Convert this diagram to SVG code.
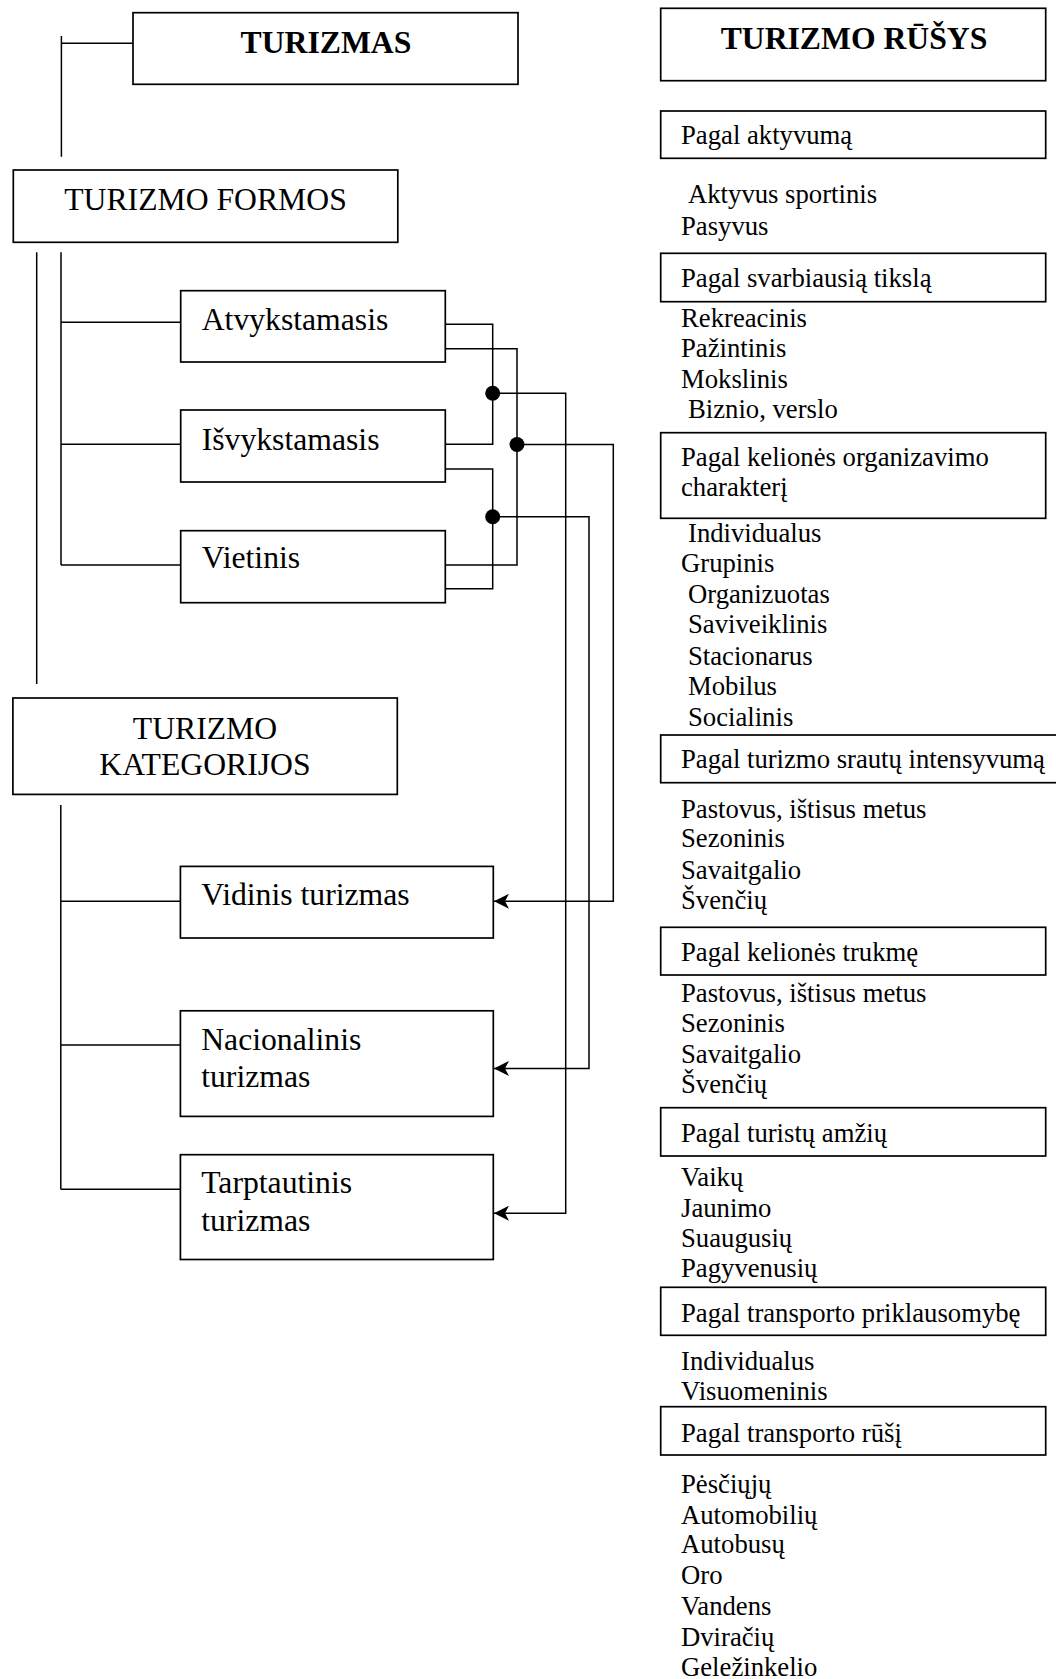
<svg xmlns="http://www.w3.org/2000/svg" width="1056" height="1679" viewBox="0 0 1056 1679">
<style>
  .box { fill: #fff; stroke: #000; stroke-width: 1.7; }
  .ln { fill: none; stroke: #000; stroke-width: 1.5; }
  .big { font-family: "Liberation Serif", "Times New Roman", serif; font-size: 31.7px; fill: #000; }
  .bold { font-weight: bold; }
  .sm { font-family: "Liberation Serif", "Times New Roman", serif; font-size: 26.7px; fill: #000; }
  .mid { text-anchor: middle; }
</style>
<defs>
  <marker id="arr" viewBox="0 0 15 15" refX="15" refY="7.5" markerWidth="15" markerHeight="15" markerUnits="userSpaceOnUse" orient="auto">
    <path d="M0,0 L15,7.5 L0,15 L4,7.5 Z" fill="#000"/>
  </marker>
</defs>
<rect width="1056" height="1679" fill="#fff"/>

<g id="connectors">
  <path class="ln" d="M133,43.3 H61.4 M61.4,36 V156.7"/>
  <path class="ln" d="M36.7,252.3 V684"/>
  <path class="ln" d="M61,252.3 V565 M61,322.3 H180.7 M61,444.3 H180.7 M61,565 H180.7"/>
  <path class="ln" d="M60.8,805 V1189.2 M60.8,901.3 H180.4 M60.8,1044.9 H180.4 M60.8,1189.2 H180.4"/>
  <path class="ln" d="M445.3,324.3 H492.7 V444.3 H445.3"/>
  <path class="ln" d="M445.3,348.7 H517 V565 H445.3"/>
  <path class="ln" d="M445.3,469 H492.7 V588.7 H445.3"/>
  <path class="ln" d="M492.7,393.3 H565.7 V1213.2 H494" marker-end="url(#arr)"/>
  <path class="ln" d="M517,444.5 H613.3 V901.3 H494" marker-end="url(#arr)"/>
  <path class="ln" d="M492.7,516.7 H589 V1068.4 H494" marker-end="url(#arr)"/>
  <circle cx="492.7" cy="393.3" r="7.5" fill="#000"/>
  <circle cx="517" cy="444.5" r="7.5" fill="#000"/>
  <circle cx="492.7" cy="516.7" r="7.5" fill="#000"/>
</g>

<g id="turizmas">
  <rect class="box" x="133" y="12.7" width="385" height="71.6"/>
  <text class="big bold mid" x="326" y="53.3">TURIZMAS</text>
</g>
<g id="turizmo-formos">
  <rect class="box" x="13.3" y="170" width="384.5" height="72.3"/>
  <text class="big mid" x="205.5" y="210">TURIZMO FORMOS</text>
</g>
<g id="atvykstamasis">
  <rect class="box" x="180.7" y="290.7" width="264.6" height="71.3"/>
  <text class="big" x="201.7" y="330">Atvykstamasis</text>
</g>
<g id="isvykstamasis">
  <rect class="box" x="180.7" y="410" width="264.6" height="72"/>
  <text class="big" x="201.7" y="450">Išvykstamasis</text>
</g>
<g id="vietinis">
  <rect class="box" x="180.7" y="530.7" width="264.6" height="72"/>
  <text class="big" x="201.7" y="568.3">Vietinis</text>
</g>
<g id="turizmo-kategorijos">
  <rect class="box" x="12.9" y="698" width="384.4" height="96.4"/>
  <text class="big mid" x="205" y="739">TURIZMO</text>
  <text class="big mid" x="205" y="775">KATEGORIJOS</text>
</g>
<g id="vidinis">
  <rect class="box" x="180.4" y="866.4" width="312.9" height="71.6"/>
  <text class="big" x="201.2" y="905">Vidinis turizmas</text>
</g>
<g id="nacionalinis">
  <rect class="box" x="180.4" y="1010.8" width="312.9" height="105.6"/>
  <text class="big" x="201.2" y="1049.5">Nacionalinis</text>
  <text class="big" x="201.2" y="1087.4">turizmas</text>
</g>
<g id="tarptautinis">
  <rect class="box" x="180.4" y="1154.7" width="312.9" height="104.8"/>
  <text class="big" x="201.2" y="1193.4">Tarptautinis</text>
  <text class="big" x="201.2" y="1230.5">turizmas</text>
</g>

<g id="turizmo-rusys">
  <rect class="box" x="660.7" y="8.3" width="385" height="72.4"/>
  <text class="big bold mid" x="854" y="49">TURIZMO RŪŠYS</text>
</g>
<g id="pagal-aktyvuma">
  <rect class="box" x="660.7" y="111" width="385" height="47.3"/>
  <text class="sm" x="681" y="144">Pagal aktyvumą</text>
  <text class="sm" x="688" y="203.3">Aktyvus sportinis</text>
  <text class="sm" x="681" y="235">Pasyvus</text>
</g>
<g id="pagal-tiksla">
  <rect class="box" x="660.7" y="253.3" width="385" height="48.4"/>
  <text class="sm" x="681" y="287.3">Pagal svarbiausią tikslą</text>
  <text class="sm" x="681" y="327.3">Rekreacinis</text>
  <text class="sm" x="681" y="357">Pažintinis</text>
  <text class="sm" x="681" y="387.5">Mokslinis</text>
  <text class="sm" x="688" y="418.3">Biznio, verslo</text>
</g>
<g id="pagal-organizavima">
  <rect class="box" x="660.7" y="432.7" width="385" height="85.6"/>
  <text class="sm" x="681" y="466">Pagal kelionės organizavimo</text>
  <text class="sm" x="681" y="496">charakterį</text>
  <text class="sm" x="688" y="541.7">Individualus</text>
  <text class="sm" x="681" y="571.7">Grupinis</text>
  <text class="sm" x="688" y="603.3">Organizuotas</text>
  <text class="sm" x="688" y="633.3">Saviveiklinis</text>
  <text class="sm" x="688" y="665">Stacionarus</text>
  <text class="sm" x="688" y="695">Mobilus</text>
  <text class="sm" x="688" y="726">Socialinis</text>
</g>
<g id="pagal-intensyvuma">
  <rect class="box" x="660.7" y="735" width="400" height="47.7"/>
  <text class="sm" x="681" y="768.3">Pagal turizmo srautų intensyvumą</text>
  <text class="sm" x="681" y="818.3">Pastovus, ištisus metus</text>
  <text class="sm" x="681" y="847.3">Sezoninis</text>
  <text class="sm" x="681" y="879">Savaitgalio</text>
  <text class="sm" x="681" y="909">Švenčių</text>
</g>
<g id="pagal-trukme">
  <rect class="box" x="660.7" y="927.3" width="385" height="47.7"/>
  <text class="sm" x="681" y="960.7">Pagal kelionės trukmę</text>
  <text class="sm" x="681" y="1001.7">Pastovus, ištisus metus</text>
  <text class="sm" x="681" y="1031.7">Sezoninis</text>
  <text class="sm" x="681" y="1062.7">Savaitgalio</text>
  <text class="sm" x="681" y="1093.3">Švenčių</text>
</g>
<g id="pagal-amziu">
  <rect class="box" x="660.7" y="1107.7" width="385" height="48.3"/>
  <text class="sm" x="681" y="1141.7">Pagal turistų amžių</text>
  <text class="sm" x="681" y="1185.7">Vaikų</text>
  <text class="sm" x="681" y="1216.7">Jaunimo</text>
  <text class="sm" x="681" y="1247.3">Suaugusių</text>
  <text class="sm" x="681" y="1277.3">Pagyvenusių</text>
</g>
<g id="pagal-priklausomybe">
  <rect class="box" x="660.7" y="1287.3" width="385" height="48"/>
  <text class="sm" x="681" y="1321.7">Pagal transporto priklausomybę</text>
  <text class="sm" x="681" y="1370">Individualus</text>
  <text class="sm" x="681" y="1400">Visuomeninis</text>
</g>
<g id="pagal-rusi">
  <rect class="box" x="660.7" y="1406.7" width="385" height="48.3"/>
  <text class="sm" x="681" y="1441.7">Pagal transporto rūšį</text>
  <text class="sm" x="681" y="1493.3">Pėsčiųjų</text>
  <text class="sm" x="681" y="1524">Automobilių</text>
  <text class="sm" x="681" y="1553.3">Autobusų</text>
  <text class="sm" x="681" y="1584">Oro</text>
  <text class="sm" x="681" y="1615">Vandens</text>
  <text class="sm" x="681" y="1645.7">Dviračių</text>
  <text class="sm" x="681" y="1676">Geležinkelio</text>
</g>
</svg>
